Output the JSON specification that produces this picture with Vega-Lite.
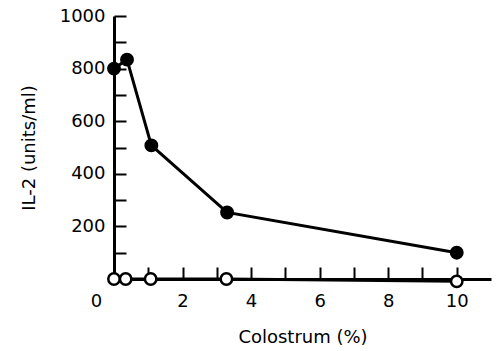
{
  "$schema": "https://vega.github.io/schema/vega-lite/v6.json",
  "width": 377,
  "height": 263,
  "autosize": "none",
  "padding": {"left": 114, "top": 16, "right": 6, "bottom": 72},
  "background": "white",
  "config": {
    "view": {"stroke": null},
    "font": "DejaVu Sans",
    "axis": {
      "domainColor": "black",
      "domainWidth": 3,
      "tickColor": "black",
      "tickWidth": 2,
      "labelColor": "black",
      "titleColor": "black",
      "labelFont": "DejaVu Sans",
      "titleFont": "DejaVu Sans",
      "labelFontSize": 18,
      "titleFontSize": 18,
      "titleFontWeight": "normal",
      "grid": false
    }
  },
  "data": {
    "values": [
      {"conc": 0.0, "il2": 800, "group": "A"},
      {"conc": 0.38, "il2": 834, "group": "A"},
      {"conc": 1.09, "il2": 508, "group": "A"},
      {"conc": 3.3, "il2": 253, "group": "A"},
      {"conc": 10.0, "il2": 100, "group": "A"},
      {"conc": 0.0, "il2": 0, "group": "B"},
      {"conc": 0.34, "il2": 0, "group": "B"},
      {"conc": 1.07, "il2": 0, "group": "B"},
      {"conc": 3.28, "il2": 0, "group": "B"},
      {"conc": 10.0, "il2": -9, "group": "B"}
    ]
  },
  "encoding": {
    "x": {
      "field": "conc",
      "type": "quantitative",
      "scale": {"domain": [0, 11], "nice": false, "zero": false},
      "axis": {
        "title": "Colostrum (%)",
        "values": [0, 1, 2, 3, 4, 5, 6, 7, 8, 9, 10],
        "labelExpr": "datum.value % 2 == 0 ? datum.label : ''",
        "tickSize": -12,
        "labelPadding": 25,
        "labelOffset": {"condition": {"test": "datum.value == 0", "value": -18}, "value": 0},
        "titlePadding": 18,
        "labelFlush": false
      }
    },
    "y": {
      "field": "il2",
      "type": "quantitative",
      "scale": {"domain": [0, 1000], "nice": false},
      "axis": {
        "title": "IL-2 (units/ml)",
        "values": [0, 100, 200, 300, 400, 500, 600, 700, 800, 900, 1000],
        "labelExpr": "datum.value % 200 == 0 && datum.value > 0 ? datum.label : ''",
        "format": "d",
        "tickSize": -12,
        "labelPadding": 21,
        "titlePadding": 21,
        "labelFlush": false
      }
    }
  },
  "layer": [
    {
      "mark": {"type": "line", "color": "black", "strokeWidth": 3},
      "encoding": {"detail": {"field": "group"}}
    },
    {
      "mark": {"type": "point", "filled": true, "size": 130, "stroke": "black", "strokeWidth": 2.5, "opacity": 1},
      "encoding": {
        "fill": {
          "field": "group",
          "type": "nominal",
          "scale": {"domain": ["A", "B"], "range": ["black", "white"]},
          "legend": null
        }
      }
    }
  ]
}
